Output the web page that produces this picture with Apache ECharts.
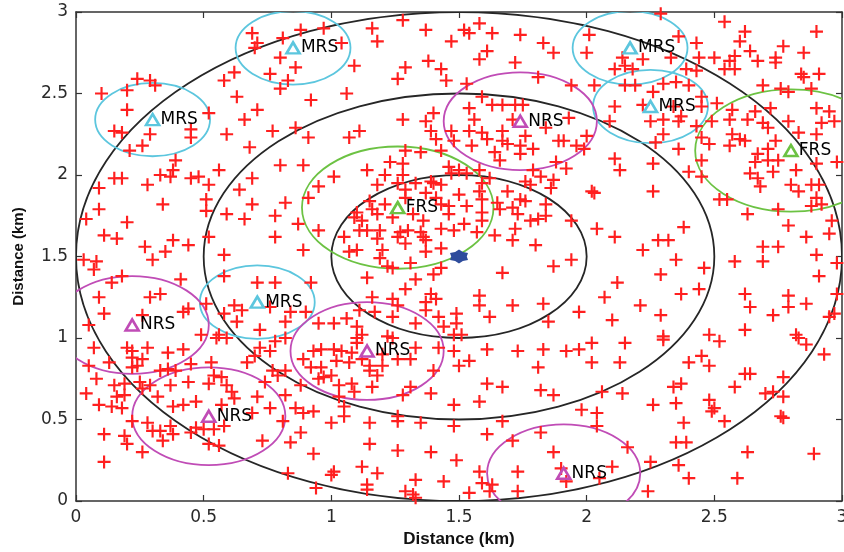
<!DOCTYPE html>
<html><head><meta charset="utf-8">
<script src="https://cdn.jsdelivr.net/npm/echarts@6/dist/echarts.min.js"></script>
<style>html,body{margin:0;padding:0;background:#fff}#c{width:844px;height:552px}</style>
</head><body><div id="c"></div>
<script>
// Axis ticks (km)
const axisTicks = [0, 0.5, 1, 1.5, 2, 2.5, 3];

// Concentric coverage rings around the base station
const baseStation = [1.5, 1.5];
const ringRadii = [0.5, 1.0, 1.5];

// Relay stations
const stationNames = ['MRS','MRS','MRS','MRS','MRS','NRS','NRS','NRS','NRS','NRS','FRS','FRS'];
const stationX = [0.30, 0.85, 0.71, 2.17, 2.25, 1.74, 0.22, 1.14, 0.52, 1.91, 1.26, 2.80];
const stationY = [2.34, 2.78, 1.22, 2.78, 2.42, 2.33, 1.08, 0.92, 0.52, 0.17, 1.80, 2.15];
const stationRange = {MRS: 0.225, NRS: 0.3, FRS: 0.375};
const stationColor = {MRS: '#5cc6de', NRS: '#c04cb6', FRS: '#6cc243'};

// Users (red plus marks), [x km, y km]
const usersTop = [
[0.69,2.87],[0.71,2.81],[0.70,2.78],[0.81,2.84],[0.88,2.89],[0.97,2.90],[0.80,2.72],[0.86,2.66],[0.76,2.62],[0.83,2.58],[0.80,2.53],[0.62,2.63],[0.58,2.58],[0.63,2.48],[0.92,2.46],[0.71,2.40],[0.66,2.34],[0.52,2.38],[0.77,2.27],[0.86,2.29],[0.91,2.23],[0.59,2.25],[0.68,2.17],[0.80,2.06],[0.89,2.06],[0.10,2.50],[0.20,2.52],[0.24,2.59],[0.29,2.58],[0.31,2.55],[0.20,2.40],[0.15,2.27],[0.18,2.26],[0.29,2.25],[0.45,2.28],[0.45,2.23],[0.26,2.18],[0.21,2.15],[0.39,2.09],[0.38,2.03],[0.56,2.03],
[1.28,2.95],[1.16,2.90],[1.37,2.89],[1.18,2.82],[1.04,2.81],[1.52,2.89],[1.54,2.87],[1.58,2.93],[1.63,2.87],[1.74,2.86],[1.47,2.82],[1.83,2.81],[1.87,2.75],[1.61,2.76],[1.58,2.71],[1.72,2.69],[1.38,2.70],[1.43,2.65],[1.29,2.66],[1.26,2.59],[1.45,2.58],[1.53,2.56],[1.09,2.67],[1.06,2.50],[1.81,2.60],[1.94,2.55],[1.59,2.48],[1.54,2.41],[1.63,2.43],[1.67,2.43],[1.72,2.43],[1.75,2.43],[1.56,2.34],[1.28,2.34],[1.37,2.33],[1.40,2.38],[1.07,2.23],[1.11,2.27],[1.39,2.27],[1.47,2.27],[1.54,2.27],[1.59,2.26],[1.67,2.27],[1.71,2.34],[1.76,2.24],[1.84,2.29],[1.93,2.35],[1.41,2.22],[1.48,2.21],[1.55,2.18],[1.61,2.22],[1.67,2.21],[1.69,2.19],[1.74,2.18],[1.79,2.16],[1.89,2.21],[1.91,2.21],[1.96,2.18],[1.99,2.16],[1.64,2.14],[1.74,2.13],[1.66,2.09],[1.29,2.15],[1.35,2.14],[1.43,2.15],[1.23,2.08],[1.28,2.07],[1.14,2.03],[1.46,2.05],[1.50,2.03],[1.58,2.03],[1.88,2.08],[1.92,2.04],[1.79,2.03],
[2.29,2.99],[2.54,2.94],[2.62,2.88],[2.90,2.88],[2.01,2.86],[2.36,2.85],[2.43,2.81],[2.60,2.82],[2.77,2.79],[2.85,2.75],[2.00,2.75],[2.64,2.76],[2.58,2.73],[2.56,2.70],[2.67,2.70],[2.74,2.72],[2.74,2.69],[2.50,2.72],[2.44,2.72],[2.33,2.72],[2.14,2.72],[2.22,2.71],[2.15,2.67],[2.11,2.65],[2.18,2.65],[2.39,2.65],[2.43,2.64],[2.54,2.65],[2.58,2.65],[2.30,2.56],[2.35,2.57],[2.40,2.55],[2.84,2.62],[2.91,2.62],[2.85,2.60],[2.03,2.55],[2.15,2.55],[2.19,2.55],[2.69,2.55],[2.76,2.53],[2.79,2.51],[2.88,2.53],[2.26,2.51],[2.45,2.48],[2.51,2.44],[2.45,2.42],[2.11,2.42],[2.22,2.43],[2.34,2.42],[2.37,2.36],[2.57,2.40],[2.66,2.39],[2.72,2.41],[2.90,2.41],[2.95,2.39],[2.09,2.33],[2.25,2.33],[2.30,2.34],[2.36,2.33],[2.43,2.30],[2.49,2.33],[2.56,2.34],[2.63,2.34],[2.69,2.32],[2.71,2.29],[2.79,2.33],[2.92,2.32],[2.97,2.33],[2.00,2.24],[2.30,2.25],[2.45,2.23],[2.57,2.25],[2.60,2.22],[2.62,2.21],[2.74,2.21],[2.83,2.26],[2.90,2.25],[2.27,2.20],[2.48,2.19],[2.56,2.18],[2.36,2.16],[2.67,2.13],[2.71,2.16],[2.66,2.08],[2.71,2.09],[2.75,2.09],[2.11,2.10],[2.26,2.07],[2.45,2.09],[2.13,2.03],[2.40,2.02],[2.90,2.07],[2.98,2.08],[2.82,2.03]
];
const usersMiddle = [
[0.15,1.98],[0.18,1.98],[0.33,2.00],[0.37,1.99],[0.45,1.98],[0.48,1.99],[0.28,1.94],[0.52,1.94],[0.09,1.92],[0.51,1.85],[0.51,1.78],[0.34,1.82],[0.09,1.79],[0.04,1.73],[0.20,1.71],[0.11,1.63],[0.16,1.61],[0.38,1.60],[0.44,1.57],[0.27,1.56],[0.35,1.53],[0.30,1.48],[0.03,1.48],[0.08,1.47],[0.07,1.42],[0.18,1.38],[0.14,1.34],[0.41,1.36],[0.52,1.62],[0.64,1.91],[0.69,1.98],[0.69,1.82],[0.59,1.76],[0.66,1.73],[0.78,1.75],[0.82,1.83],[0.87,1.70],[0.91,1.86],[0.95,1.93],[0.95,1.66],[0.78,1.62],[0.58,1.51],[0.89,1.54],[0.58,1.38],[0.71,1.34],[0.78,1.34],[0.92,1.34],[0.09,1.25],[0.29,1.25],[0.33,1.27],[0.11,1.15],[0.44,1.18],[0.42,1.16],[0.26,1.14],[0.05,1.08],[0.51,1.21],[0.58,1.15],[0.62,1.20],[0.65,1.17],[0.63,1.10],[0.76,1.19],[0.84,1.16],[0.90,1.16],[0.95,1.09],[0.82,1.10],[0.56,1.02],[0.72,1.05],[0.49,1.02],
[1.01,1.99],[1.21,2.00],[1.28,2.00],[1.18,1.94],[1.26,1.95],[1.29,1.91],[1.33,1.95],[1.39,1.96],[1.40,1.95],[1.43,1.94],[1.47,2.01],[1.53,2.01],[1.59,1.95],[1.62,1.98],[1.69,1.90],[1.76,1.96],[1.82,1.99],[1.78,1.94],[1.86,1.92],[1.87,1.97],[1.29,1.86],[1.37,1.89],[1.41,1.86],[1.50,1.88],[1.58,1.90],[1.59,1.85],[1.65,1.83],[1.74,1.85],[1.76,1.84],[1.84,1.82],[1.15,1.84],[1.16,1.79],[1.21,1.82],[1.10,1.77],[1.09,1.74],[1.12,1.72],[1.18,1.76],[1.24,1.74],[1.32,1.76],[1.36,1.72],[1.43,1.82],[1.46,1.81],[1.53,1.81],[1.46,1.76],[1.59,1.77],[1.66,1.79],[1.71,1.80],[1.73,1.76],[1.78,1.72],[1.81,1.73],[1.84,1.75],[1.94,1.72],[1.52,1.70],[1.59,1.72],[1.11,1.66],[1.14,1.66],[1.19,1.66],[1.27,1.65],[1.30,1.66],[1.35,1.65],[1.43,1.67],[1.48,1.66],[1.57,1.65],[1.64,1.63],[1.72,1.67],[1.05,1.62],[1.18,1.61],[1.26,1.62],[1.36,1.62],[1.37,1.60],[1.29,1.58],[1.71,1.60],[1.80,1.57],[1.43,1.55],[1.10,1.54],[1.07,1.53],[1.20,1.54],[1.37,1.53],[1.19,1.49],[1.22,1.44],[1.24,1.43],[1.31,1.46],[1.43,1.43],[1.40,1.39],[1.14,1.37],[1.33,1.36],[1.67,1.40],[1.87,1.44],[1.94,1.48],[1.29,1.30],[1.16,1.25],[1.24,1.24],[1.26,1.20],[1.39,1.27],[1.41,1.24],[1.37,1.22],[1.37,1.17],[1.58,1.26],[1.58,1.20],[1.71,1.20],[1.83,1.21],[1.97,1.16],[1.01,1.09],[1.06,1.12],[1.11,1.17],[1.17,1.16],[1.10,1.07],[1.24,1.13],[1.33,1.09],[1.42,1.13],[1.44,1.07],[1.49,1.15],[1.49,1.09],[1.62,1.13],[1.85,1.10],[1.12,1.02],[1.22,1.01],[1.48,1.02],[1.51,1.02],
[2.45,1.99],[2.64,2.01],[2.67,1.98],[2.68,1.93],[2.73,2.02],[2.80,1.94],[2.83,1.90],[2.88,1.94],[2.91,1.94],[2.90,1.86],[2.92,1.82],[2.88,1.81],[2.02,1.90],[2.03,1.89],[2.26,1.90],[2.52,1.85],[2.55,1.85],[2.63,1.76],[2.75,1.79],[2.79,1.69],[2.86,1.62],[2.96,1.72],[2.95,1.64],[2.04,1.67],[2.11,1.62],[2.38,1.68],[2.28,1.60],[2.32,1.60],[2.22,1.54],[2.35,1.48],[2.46,1.43],[2.69,1.56],[2.75,1.56],[2.58,1.47],[2.69,1.47],[2.90,1.51],[2.98,1.46],[2.91,1.38],[2.29,1.39],[2.12,1.34],[2.07,1.25],[2.37,1.27],[2.44,1.30],[2.21,1.20],[2.29,1.14],[2.10,1.11],[2.62,1.27],[2.79,1.26],[2.86,1.21],[2.79,1.19],[2.64,1.19],[2.73,1.14],[2.98,1.27],[2.95,1.13],[2.97,1.15],[2.62,1.05],[2.48,1.02],[2.30,1.01],[2.82,1.02]
];
const usersBottom = [
[0.07,0.94],[0.20,0.94],[0.22,0.92],[0.28,0.94],[0.22,0.88],[0.26,0.87],[0.24,0.83],[0.22,0.82],[0.13,0.85],[0.36,0.91],[0.42,0.93],[0.05,0.83],[0.08,0.75],[0.15,0.71],[0.19,0.72],[0.25,0.73],[0.29,0.71],[0.26,0.69],[0.33,0.80],[0.36,0.81],[0.39,0.80],[0.37,0.71],[0.44,0.73],[0.45,0.84],[0.04,0.66],[0.16,0.64],[0.19,0.65],[0.32,0.64],[0.09,0.59],[0.14,0.58],[0.18,0.57],[0.38,0.58],[0.42,0.59],[0.47,0.61],[0.22,0.49],[0.28,0.48],[0.30,0.43],[0.33,0.43],[0.37,0.46],[0.38,0.41],[0.34,0.37],[0.45,0.42],[0.47,0.45],[0.50,0.44],[0.54,0.44],[0.58,0.46],[0.11,0.41],[0.19,0.40],[0.20,0.35],[0.26,0.30],[0.11,0.24],[0.52,0.35],[0.56,0.34],[0.55,1.00],[0.59,1.00],[0.53,0.85],[0.54,0.77],[0.57,0.76],[0.52,0.72],[0.59,0.71],[0.61,0.67],[0.62,0.63],[0.57,0.59],[0.69,0.54],[0.71,0.64],[0.76,0.57],[0.81,0.49],[0.73,0.37],[0.84,0.36],[0.67,0.85],[0.70,0.89],[0.72,0.94],[0.76,0.92],[0.78,0.98],[0.82,1.00],[0.77,0.80],[0.79,0.77],[0.82,0.80],[0.74,0.73],[0.82,0.65],[0.86,0.57],[0.89,0.54],[0.93,0.55],[0.88,0.71],[0.89,0.87],[0.93,0.92],[0.96,0.93],[0.92,0.82],[0.96,0.82],[0.95,0.75],[0.88,0.42],[0.93,0.29],[0.83,0.17],[0.94,0.08],
[1.10,1.00],[1.24,1.00],[1.01,0.93],[1.04,0.92],[1.08,0.91],[1.10,0.97],[1.20,0.90],[1.26,0.87],[1.31,0.87],[1.33,0.94],[1.02,0.86],[1.07,0.85],[1.12,0.87],[1.15,0.83],[1.20,0.83],[1.15,0.80],[1.18,0.77],[0.97,0.76],[1.00,0.77],[1.03,0.71],[1.08,0.72],[1.16,0.70],[1.09,0.67],[1.03,0.64],[1.05,0.58],[1.05,0.52],[1.00,0.48],[1.15,0.48],[1.26,0.52],[1.26,0.49],[1.35,0.48],[1.31,0.70],[1.28,0.65],[1.39,0.66],[1.40,0.80],[1.42,0.94],[1.48,0.92],[1.50,0.83],[1.54,0.86],[1.61,0.93],[1.73,0.92],[1.83,0.93],[1.92,0.92],[1.97,0.93],[1.81,0.82],[1.61,0.72],[1.67,0.70],[1.82,0.68],[1.87,0.65],[1.48,0.59],[1.58,0.61],[1.98,0.56],[1.48,0.46],[1.67,0.49],[1.61,0.41],[1.15,0.35],[1.82,0.42],[1.71,0.37],[1.26,0.31],[1.39,0.30],[1.49,0.25],[1.87,0.30],[1.12,0.21],[1.01,0.18],[1.00,0.16],[1.18,0.17],[1.33,0.13],[1.44,0.12],[1.58,0.18],[1.14,0.10],[1.14,0.07],[1.29,0.06],[1.32,0.04],[1.33,0.02],[1.54,0.05],[1.59,0.11],[1.63,0.10],[1.62,0.06],[1.73,0.18],[1.73,0.06],[1.90,0.20],[1.92,0.12],
[2.02,0.97],[2.15,0.97],[2.30,0.99],[2.52,0.98],[2.83,1.00],[2.86,0.96],[2.93,0.90],[2.02,0.85],[2.13,0.85],[2.40,0.85],[2.45,0.89],[2.48,0.83],[2.62,0.78],[2.64,0.78],[2.77,0.76],[2.58,0.70],[2.70,0.66],[2.73,0.67],[2.77,0.64],[2.34,0.70],[2.37,0.72],[2.06,0.67],[2.14,0.66],[2.26,0.59],[2.35,0.60],[2.48,0.62],[2.50,0.57],[2.49,0.55],[2.54,0.49],[2.76,0.52],[2.77,0.51],[2.04,0.54],[2.04,0.46],[2.38,0.48],[2.35,0.36],[2.39,0.36],[2.16,0.33],[2.25,0.24],[2.36,0.22],[2.10,0.21],[2.63,0.30],[2.89,0.29],[2.40,0.14],[2.59,0.14],[2.05,0.14],[2.24,0.06]
];

const users = usersTop.concat(usersMiddle, usersBottom);

const chart = echarts.init(document.getElementById('c'), null, {renderer: 'canvas'});

function circleSeries(data, color, width) {
  return {
    type: 'custom', coordinateSystem: 'cartesian2d', clip: true, silent: true,
    data: data, encode: {x: 0, y: 1}, z: 2,
    renderItem: function (params, api) {
      const c = api.coord([api.value(0), api.value(1)]);
      const s = api.size([api.value(2), api.value(2)]);
      return {type: 'ellipse', shape: {cx: c[0], cy: c[1], rx: s[0], ry: s[1]},
              style: {fill: null, stroke: color, lineWidth: width}};
    }
  };
}

const ringData = ringRadii.map(r => [baseStation[0], baseStation[1], r]);
const series = [circleSeries(ringData, '#262626', 1.8)];
['MRS','NRS','FRS'].forEach(t => {
  const d = [];
  stationNames.forEach((n, i) => { if (n === t) d.push([stationX[i], stationY[i], stationRange[t]]); });
  series.push(circleSeries(d, stationColor[t], 1.8));
});

series.push({
  type: 'scatter', data: users, z: 3, silent: true,
  symbol: 'path://M5,0h2v5h5v2h-5v5h-2v-5h-5v-2h5z', symbolSize: 13,
  itemStyle: {color: '#ff1f1f', opacity: 1}
});

['MRS','NRS','FRS'].forEach(t => {
  const d = [];
  stationNames.forEach((n, i) => { if (n === t) d.push({name: n, value: [stationX[i], stationY[i]]}); });
  series.push({
    type: 'scatter', data: d, z: 5, silent: true,
    symbol: 'triangle', symbolSize: [13, 11],
    itemStyle: {color: 'rgba(255,255,255,0)', borderColor: stationColor[t], borderWidth: 2.6, opacity: 1},
    label: {show: true, position: 'right', distance: 0, formatter: '{b}',
            color: '#000', fontSize: 17, fontFamily: 'DejaVu Sans', opacity: 1}
  });
});

series.push({
  type: 'scatter', data: [baseStation], z: 6, silent: true,
  symbol: 'path://M0,-10L3.75,-6.5L8.66,-5L7.5,0L8.66,5L3.75,6.5L0,10L-3.75,6.5L-8.66,5L-7.5,0L-8.66,-5L-3.75,-6.5Z',
  symbolSize: [18, 14], itemStyle: {color: '#2e4c9c', opacity: 1}
});

const axisCommon = {
  type: 'value', min: axisTicks[0], max: axisTicks[axisTicks.length - 1], interval: axisTicks[1] - axisTicks[0],
  splitLine: {show: false},
  axisLine: {show: true, onZero: false, lineStyle: {color: '#333', width: 1.5}},
  axisTick: {show: true, inside: true, length: 6, lineStyle: {color: '#333', width: 1.2}}
};
const labelStyle = {fontSize: 17, fontFamily: 'DejaVu Sans', color: '#2a2a2a', formatter: v => String(v)};
const nameStyle = {fontWeight: 'bold', fontFamily: 'Liberation Sans', color: '#111'};

chart.setOption({
  animation: false,
  backgroundColor: '#fff',
  grid: {left: 76, right: 2, top: 12, bottom: 51, containLabel: false, outerBoundsMode: 'none'},
  xAxis: [
    Object.assign({}, axisCommon, {position: 'bottom', axisLabel: Object.assign({margin: 8}, labelStyle),
      name: 'Distance (km)', nameLocation: 'middle', nameGap: 29, nameTextStyle: Object.assign({fontSize: 17}, nameStyle)}),
    Object.assign({}, axisCommon, {position: 'top', axisLabel: {show: false}})
  ],
  yAxis: [
    Object.assign({}, axisCommon, {position: 'left', axisLabel: Object.assign({margin: 8}, labelStyle),
      name: 'Distance (km)', nameLocation: 'middle', nameGap: 50, nameTextStyle: Object.assign({fontSize: 15}, nameStyle)}),
    Object.assign({}, axisCommon, {position: 'right', axisLabel: {show: false}})
  ],
  series: series
});
</script>
</body></html>
